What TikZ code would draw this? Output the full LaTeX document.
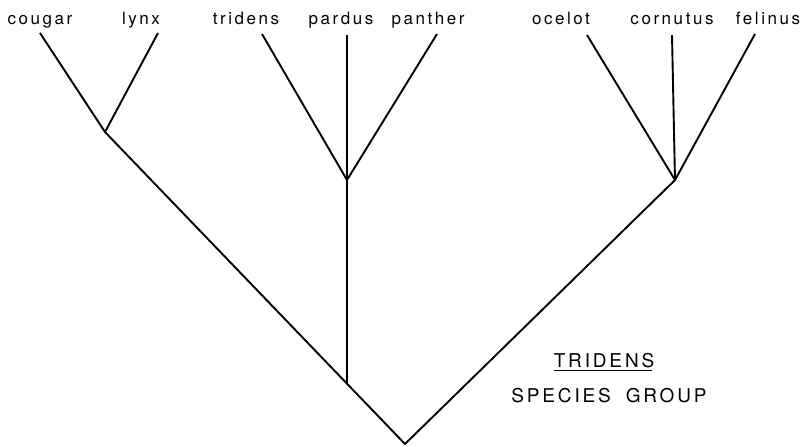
\documentclass[tikz,border=0pt]{standalone}
\usepackage{fontspec}
\usetikzlibrary{positioning, calc}
\newfontfamily\lblfont[LetterSpace=15]{TeX Gyre Heros}

\begin{document}
\begin{tikzpicture}[
  x=1pt, y=-1pt,
  branch/.style={line width=1.9pt, black, line join=round},
  taxon/.style={font=\fontsize{17}{20}\lblfont, anchor=base, inner sep=0pt},
  grouplbl/.style={font=\fontsize{19}{22}\lblfont, anchor=base, inner sep=0pt},
]

% Frame
\useasboundingbox (0,0) rectangle (809,447);

% === Branch points ===
\coordinate (root) at (405,444);
\coordinate (nL) at (105,132);
\coordinate (nM) at (347,180);
\coordinate (nR) at (675,180);
\coordinate (jM) at (347,384);

% === Tips ===
\coordinate (tCougar)   at (40,33);
\coordinate (tLynx)     at (158,33);
\coordinate (tTridens)  at (262,34);
\coordinate (tPardus)   at (347,35);
\coordinate (tPanther)  at (437,34);
\coordinate (tOcelot)   at (587,35);
\coordinate (tCornutus) at (672,35);
\coordinate (tFelinus)  at (755,34);

% === Taxon names ===
\node[taxon] (cougar)   at (40,24)  {cougar};
\node[taxon] (lynx)     at (141,24) {lynx};
\node[taxon] (tridens)  at (246,24) {tridens};
\node[taxon] (pardus)   at (341,24) {pardus};
\node[taxon] (panther)  at (428,24) {panther};
\node[taxon] (ocelot)   at (561,24) {ocelot};
\node[taxon] (cornutus) at (672,24) {cornutus};
\node[taxon] (felinus)  at (768,24) {felinus};

% Main V
\draw[branch] (nL) -- (root) -- (nR);
\draw[branch] (jM) -- (nM);

% Left pair
\draw[branch] (tCougar) -- (nL) -- (tLynx);

% Middle trio
\draw[branch] (tTridens) -- (nM) -- (tPanther);
\draw[branch] (nM) -- (tPardus);

% Right trio
\draw[branch] (tOcelot) -- (nR) -- (tFelinus);
\draw[branch] (nR) -- (tCornutus);

% === Group caption ===
\node[grouplbl] (grpname) at (604,367) {TRIDENS};
\draw[line width=1pt] ($(grpname.base west)+(0,3.5)$) -- ($(grpname.base east)+(-2,3.5)$);
\node[grouplbl] (grptype) at (609,402) {SPECIES\hspace{15pt}GROUP};

\end{tikzpicture}
\end{document}
